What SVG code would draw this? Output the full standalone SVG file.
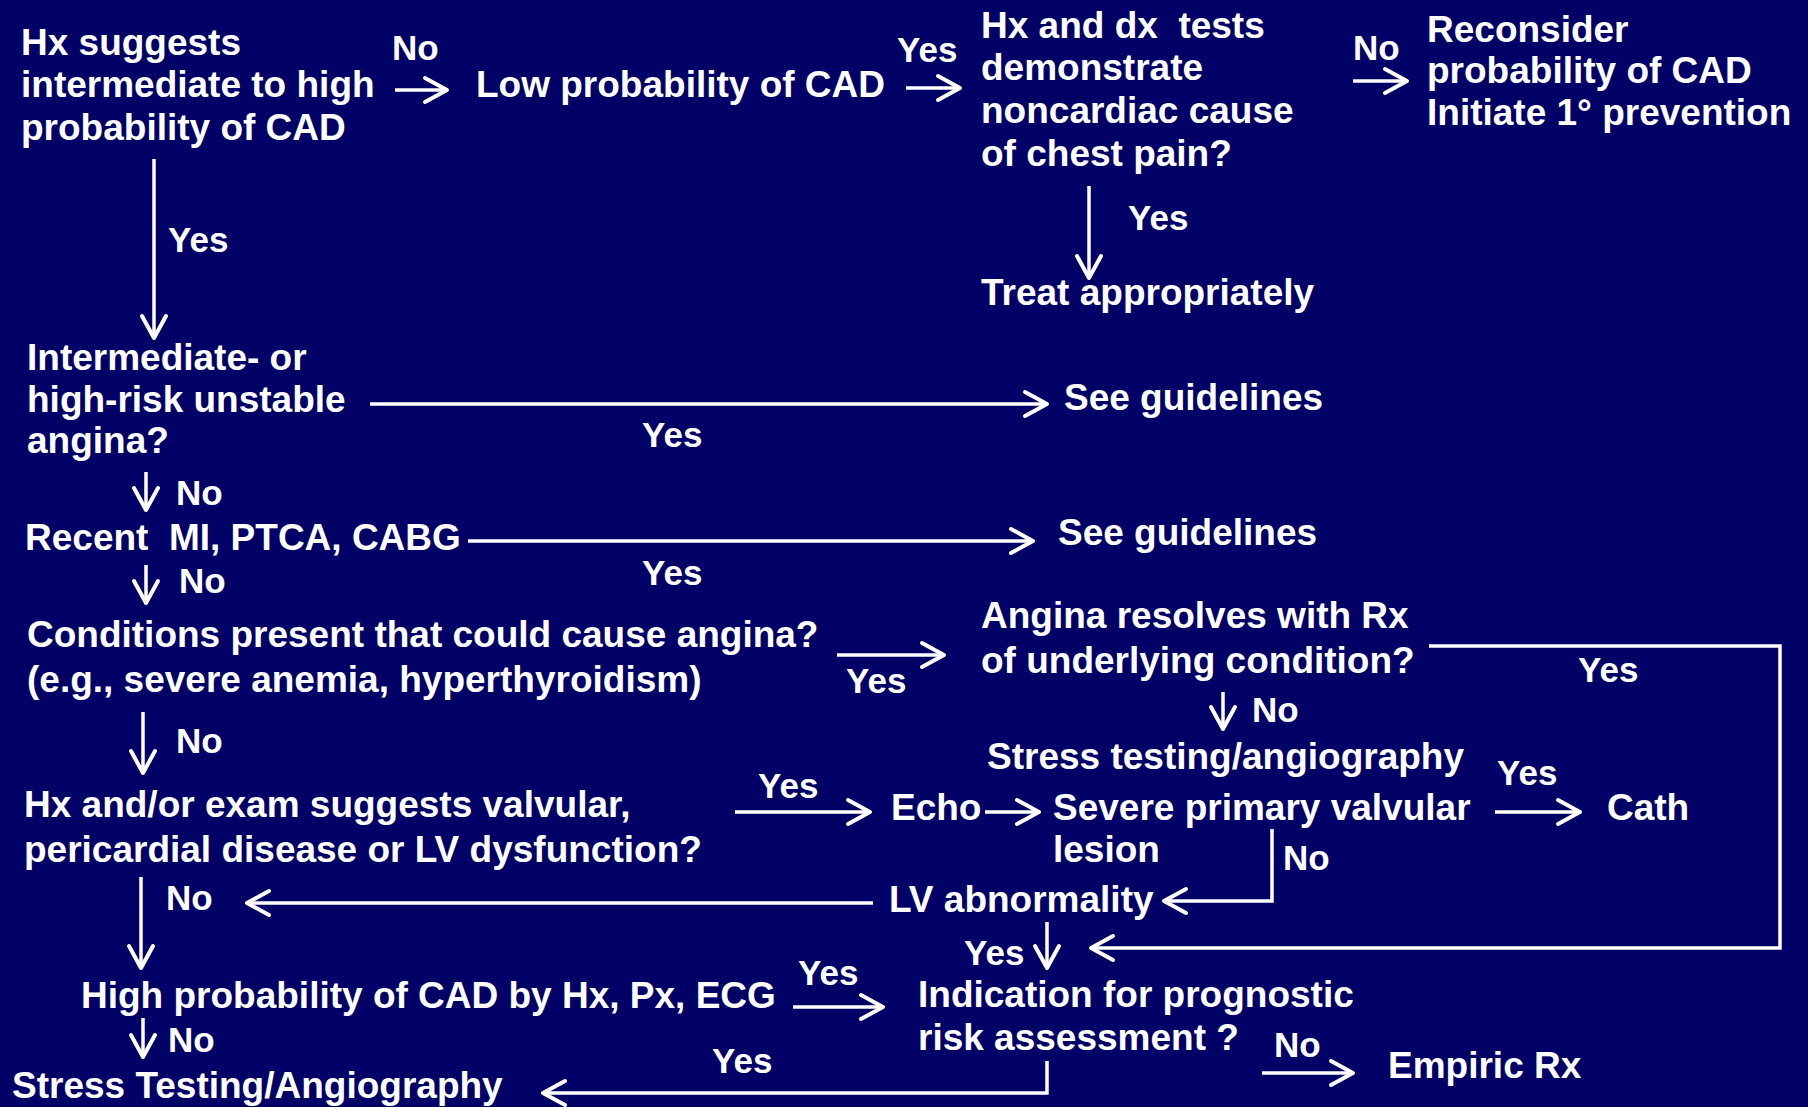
<svg xmlns="http://www.w3.org/2000/svg" width="1808" height="1107" viewBox="0 0 1808 1107">
<defs>
<style>
text{font-family:"Liberation Sans",Arial,sans-serif;font-weight:bold;fill:#fff;white-space:pre}
.t{font-size:37px}
.l{font-size:35px}
.c{fill:none;stroke:#fff;stroke-width:3.5}
</style>
<marker id="ah" markerUnits="userSpaceOnUse" viewBox="0 0 30 30" markerWidth="30" markerHeight="30" refX="26" refY="15" orient="auto">
<path d="M4,3 L26,15 L4,27" fill="none" stroke="#fff" stroke-width="4" stroke-linecap="round" stroke-linejoin="round"/>
</marker>
</defs>
<rect width="1808" height="1107" fill="#000066"/>
<g id="connectors" class="c" marker-end="url(#ah)">
<line x1="395" y1="90" x2="447" y2="90"/>
<line x1="906" y1="88" x2="960" y2="88"/>
<line x1="1353" y1="81" x2="1407" y2="81"/>
<line x1="154" y1="159" x2="154" y2="338"/>
<line x1="1089" y1="186" x2="1089" y2="278"/>
<line x1="370" y1="404" x2="1047" y2="404"/>
<line x1="468" y1="541" x2="1033" y2="541"/>
<line x1="146" y1="472" x2="146" y2="510"/>
<line x1="146" y1="565" x2="146" y2="603"/>
<line x1="143" y1="712" x2="143" y2="773"/>
<line x1="1223" y1="692" x2="1223" y2="729"/>
<line x1="143" y1="1018" x2="143" y2="1057"/>
<line x1="837" y1="655" x2="944" y2="655"/>
<polyline points="1429,646 1780,646 1780,948 1091,948"/>
<line x1="735" y1="812" x2="870" y2="812"/>
<line x1="985" y1="812" x2="1039" y2="812"/>
<line x1="1495" y1="812" x2="1580" y2="812"/>
<polyline points="1272,829 1272,901 1164,901"/>
<line x1="873" y1="903" x2="247" y2="903"/>
<line x1="141" y1="877" x2="141" y2="968"/>
<line x1="1047" y1="922" x2="1047" y2="968"/>
<line x1="793" y1="1007" x2="883" y2="1007"/>
<line x1="1262" y1="1073" x2="1353" y2="1073"/>
<polyline points="1047,1061 1047,1093 543,1093"/>
</g>
<g id="labels" class="l">
<text x="392" y="60">No</text>
<text x="897" y="62">Yes</text>
<text x="1353" y="60">No</text>
<text x="168" y="252">Yes</text>
<text x="1128" y="230">Yes</text>
<text x="642" y="447">Yes</text>
<text x="176" y="505">No</text>
<text x="642" y="585">Yes</text>
<text x="179" y="593">No</text>
<text x="846" y="693">Yes</text>
<text x="1578" y="682">Yes</text>
<text x="1252" y="722">No</text>
<text x="176" y="753">No</text>
<text x="758" y="798">Yes</text>
<text x="1497" y="785">Yes</text>
<text x="1283" y="870">No</text>
<text x="166" y="910">No</text>
<text x="964" y="965">Yes</text>
<text x="798" y="985">Yes</text>
<text x="168" y="1052">No</text>
<text x="1274" y="1057">No</text>
<text x="712" y="1073">Yes</text>
</g>
<g id="n1" class="t"><text x="21" y="55">Hx suggests</text><text x="21" y="97">intermediate to high</text><text x="21" y="140">probability of CAD</text></g>
<g id="n2" class="t"><text x="476" y="97">Low probability of CAD</text></g>
<g id="n3" class="t"><text x="981" y="38">Hx and dx  tests</text><text x="981" y="80">demonstrate</text><text x="981" y="123">noncardiac cause</text><text x="981" y="166">of chest pain?</text></g>
<g id="n4" class="t"><text x="1427" y="42">Reconsider</text><text x="1427" y="83">probability of CAD</text><text x="1427" y="125">Initiate 1° prevention</text></g>
<g id="n5" class="t"><text x="981" y="305">Treat appropriately</text></g>
<g id="n6" class="t"><text x="27" y="370">Intermediate- or</text><text x="27" y="412">high-risk unstable</text><text x="27" y="453">angina?</text></g>
<g id="n7" class="t"><text x="1064" y="410">See guidelines</text></g>
<g id="n8" class="t"><text x="25" y="550">Recent  MI, PTCA, CABG</text></g>
<g id="n9" class="t"><text x="1058" y="545">See guidelines</text></g>
<g id="n10" class="t"><text x="27" y="647">Conditions present that could cause angina?</text><text x="27" y="692">(e.g., severe anemia, hyperthyroidism)</text></g>
<g id="n11" class="t"><text x="981" y="628">Angina resolves with Rx</text><text x="981" y="673">of underlying condition?</text></g>
<g id="n12" class="t"><text x="987" y="769">Stress testing/angiography</text></g>
<g id="n13" class="t"><text x="24" y="817">Hx and/or exam suggests valvular,</text><text x="24" y="862">pericardial disease or LV dysfunction?</text></g>
<g id="n14" class="t"><text x="891" y="820">Echo</text></g>
<g id="n15" class="t"><text x="1053" y="820">Severe primary valvular</text><text x="1053" y="862">lesion</text></g>
<g id="n16" class="t"><text x="1607" y="820">Cath</text></g>
<g id="n17" class="t"><text x="889" y="912">LV abnormality</text></g>
<g id="n18" class="t"><text x="81" y="1008">High probability of CAD by Hx, Px, ECG</text></g>
<g id="n19" class="t"><text x="918" y="1007">Indication for prognostic</text><text x="918" y="1050">risk assessment ?</text></g>
<g id="n20" class="t"><text x="1388" y="1078">Empiric Rx</text></g>
<g id="n21" class="t"><text x="12" y="1098">Stress Testing/Angiography</text></g>
</svg>
